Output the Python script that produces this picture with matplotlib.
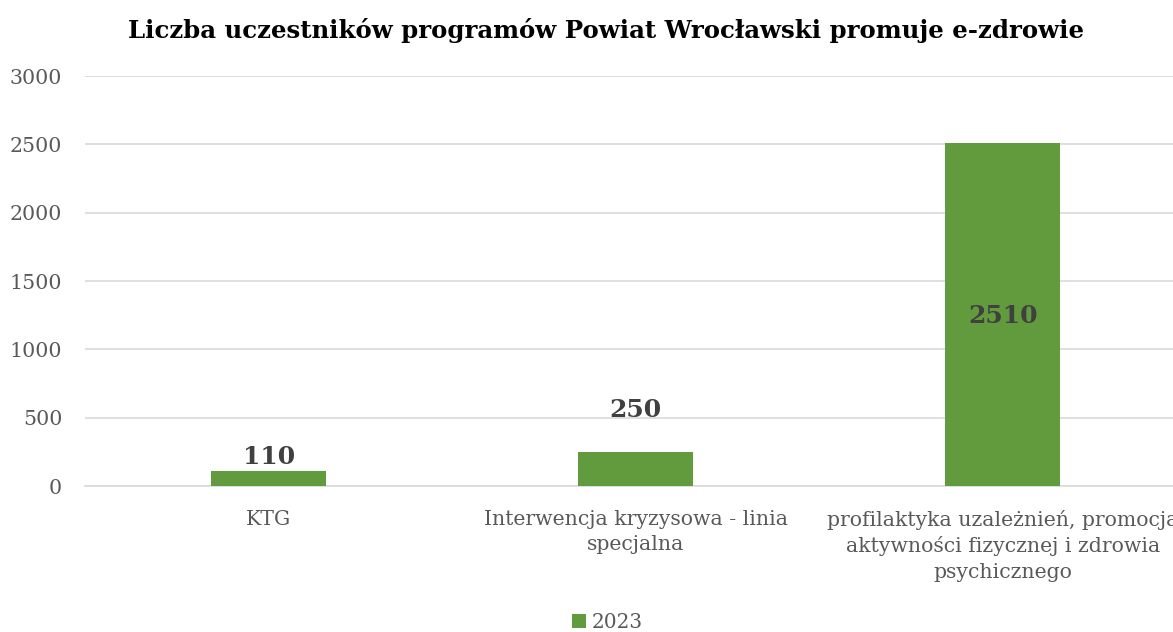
import matplotlib.pyplot as plt

categories = [
    "KTG",
    "Interwencja kryzysowa - linia\nspecjalna",
    "profilaktyka uzależnień, promocja\naktywności fizycznej i zdrowia\npsychicznego",
]
values_2023 = [110, 250, 2510]
label_y = [212, 556, 1244]
series_name = "2023"

plt.rcParams["font.family"] = ["DejaVu Serif"]

fig = plt.figure(figsize=(11.73, 6.32), dpi=100)
ax = fig.add_axes([0.0725, 0.231, 0.939, 0.6487])

x = range(len(categories))
ax.bar(x, values_2023, width=0.313, color="#629A3E", label=series_name, zorder=3)

for xi, v, ly in zip(x, values_2023, label_y):
    ax.text(xi, ly, f"{v}", ha="center", va="center", fontsize=18,
            fontweight="bold", color="#404040", zorder=4)

ax.set_xlim(-0.5, 2.5)
ax.set_ylim(0, 3000)
ax.set_yticks(range(0, 3001, 500))
ax.yaxis.grid(True, color="#D9D9D9", linewidth=1.2, zorder=0)
ax.set_xticks(list(x))
ax.set_xticklabels(categories, fontsize=14.7, color="#595959", linespacing=1.42)
ax.tick_params(axis="y", labelsize=14.8, labelcolor="#595959", length=0, pad=16.5)
ax.tick_params(axis="x", length=0, pad=17)
for s in ax.spines.values():
    s.set_visible(False)
ax.spines["bottom"].set_visible(True)
ax.spines["bottom"].set_color("#D9D9D9")
ax.spines["bottom"].set_linewidth(1.2)

fig.text(0.517, 0.951, "Liczba uczestników programów Powiat Wrocławski promuje e-zdrowie",
         ha="center", va="center", fontsize=17.6, fontweight="bold", color="black")

fig.legend(loc="center", bbox_to_anchor=(0.518, 0.015), frameon=False, fontsize=14.5,
           handlelength=0.65, handleheight=0.65, handletextpad=0.3,
           labelcolor="#595959")

fig.savefig("out.png", dpi=100)
